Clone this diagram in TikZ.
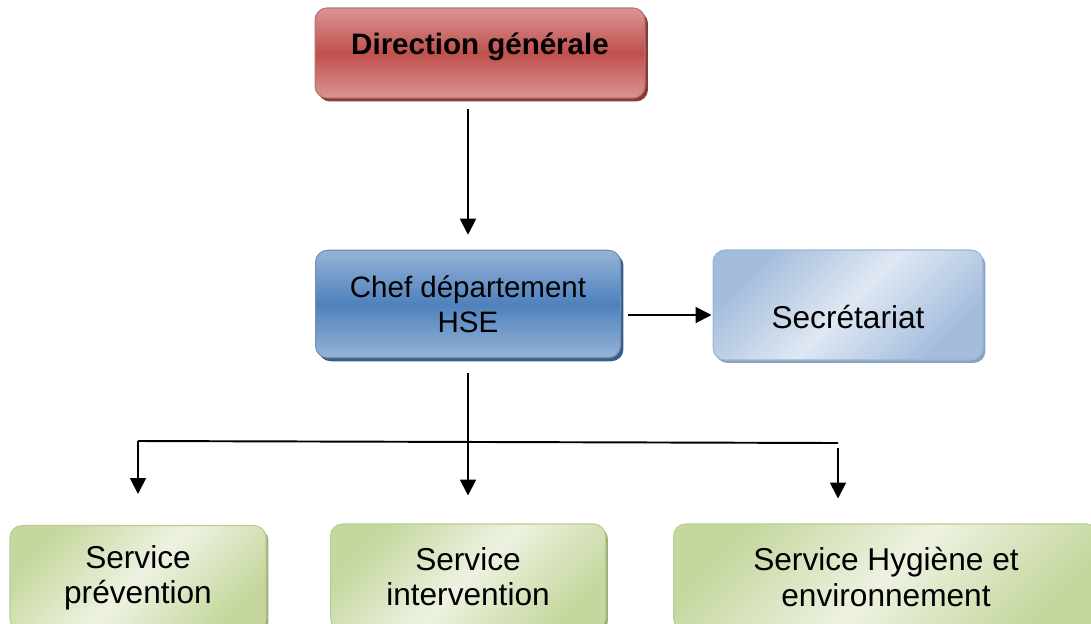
\documentclass[tikz,border=0pt]{standalone}
\usepackage{fontspec}
\setmainfont{Liberation Sans}
\usetikzlibrary{arrows.meta,shadows}
\definecolor{dglight}{HTML}{DA9593}
\definecolor{dgmid}{HTML}{C0504D}
\definecolor{dgdark}{HTML}{8C3836}
\definecolor{chlight}{HTML}{95B3D7}
\definecolor{chmid}{HTML}{4F81BD}
\definecolor{chdark}{HTML}{385D8A}
\definecolor{selight}{HTML}{DFE8F3}
\definecolor{sedark}{HTML}{A3BCDC}
\definecolor{seline}{HTML}{9AB5D8}
\definecolor{grlight}{HTML}{EDF2E1}
\definecolor{grdark}{HTML}{C5D79E}
\definecolor{grline}{HTML}{B9CE90}
\tikzstyle{box}=[rectangle,rounded corners=0.24cm,align=center,inner sep=2pt,
  font=\fontsize{18}{20}\selectfont]
\tikzstyle{dgbox}=[box,draw=dgdark!70,line width=0.6pt,top color=dglight,bottom color=dglight,middle color=dgmid,
  drop shadow={shadow xshift=0.06cm,shadow yshift=-0.07cm,fill=dgdark,opacity=1},
  font=\fontsize{16.8}{20}\selectfont\bfseries]
\tikzstyle{chbox}=[box,draw=chdark!70,line width=0.6pt,top color=chlight,bottom color=chlight,middle color=chmid,
  drop shadow={shadow xshift=0.06cm,shadow yshift=-0.07cm,fill=chdark,opacity=1},
  font=\fontsize{16.8}{20}\selectfont]
\tikzstyle{sebox}=[box,draw=seline,line width=0.6pt,top color=sedark,bottom color=sedark,middle color=selight,shading angle=45,
  drop shadow={shadow xshift=0.05cm,shadow yshift=-0.06cm,fill=seline!90!black,opacity=1}]
\tikzstyle{grbox}=[box,draw=grline,line width=0.6pt,top color=grdark,bottom color=grdark,middle color=grlight,shading angle=45,
  drop shadow={shadow xshift=0.05cm,shadow yshift=-0.06cm,fill=grline!85!black,opacity=1}]
\tikzstyle{link}=[line width=1.1pt,black]
\tikzstyle{arr}=[link,-{Triangle[width=0.32cm,length=0.32cm]}]

\begin{document}
\begin{tikzpicture}[x=0.02cm,y=-0.02cm]
\useasboundingbox (0,0) rectangle (1091,623);
% boxes
\node[dgbox,minimum width=6.6cm,minimum height=1.8cm] (dg) at (480,53) {\raisebox{0.2cm}[0.45cm][0cm]{Direction générale}};
\node[chbox,minimum width=6.1cm,minimum height=2.15cm] (chef) at (468,304) {Chef département\\HSE};
\node[sebox,minimum width=5.4cm,minimum height=2.2cm] (sec) at (848,305) {\raisebox{-0.24cm}[0.45cm][0cm]{Secrétariat}};
\node[grbox,minimum width=5.12cm,minimum height=2.1cm] (sp) at (138,578) {Service\\prévention};
\node[grbox,minimum width=5.5cm,minimum height=2.12cm] (si) at (468,577) {Service\\intervention};
\node[grbox,minimum width=8.5cm,minimum height=2.12cm] (sh) at (886,577) {Service Hygiène et\\environnement};
% connectors
\coordinate (busl) at (138,441);
\coordinate (busr) at (838,443);
\draw[arr,shorten <=0.2cm,shorten >=0.3cm] (dg.south -| chef.north) -- (chef.north);
\draw[arr,shorten <=0.14cm,shorten >=0.02cm] ([yshift=-0.22cm]chef.east) -- ([yshift=-0.22cm]chef.east -| sec.west);
\draw[arr,shorten <=0.3cm,shorten >=0.56cm] (chef.south) -- (si.north);
\draw[link] (busl) -- (busr);
\draw[arr,shorten >=0.62cm] (busl) -- (sp.north);
\draw[arr,shorten <=0.1cm,shorten >=0.5cm] (busr) -- (busr |- sh.north);
\end{tikzpicture}
\end{document}
